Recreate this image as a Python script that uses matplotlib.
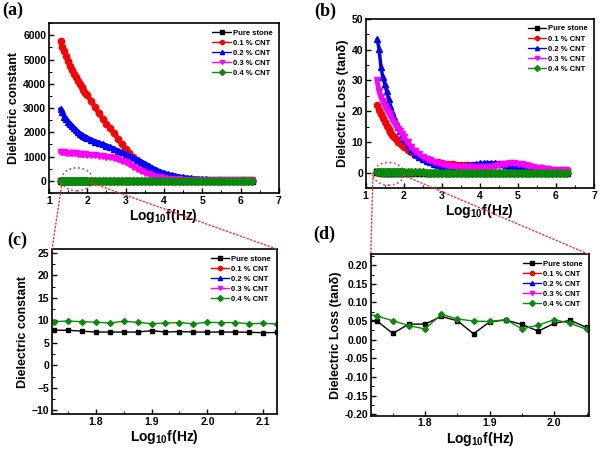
import numpy as np
import matplotlib
matplotlib.use("Agg")
import matplotlib.pyplot as plt
from matplotlib.patches import Ellipse, ConnectionPatch
from matplotlib.ticker import MultipleLocator, FormatStrFormatter

plt.rcParams['font.family'] = ['Liberation Sans', 'DejaVu Sans']
plt.rcParams['font.weight'] = 'bold'
plt.rcParams['axes.labelweight'] = 'bold'
plt.rcParams['mathtext.fontset'] = 'custom'
plt.rcParams['mathtext.rm'] = 'Liberation Sans:bold'
plt.rcParams['mathtext.bf'] = 'Liberation Sans:bold'
plt.rcParams['mathtext.default'] = 'bf'

labels = ["Pure stone", "0.1 % CNT", "0.2 % CNT", "0.3 % CNT", "0.4 % CNT"]
colors = ["#000000", "#ff0000", "#0000ff", "#ff00ff", "#0a8a0a"]
markers = ["s", "o", "^", "v", "D"]

# full spectrum, log10 f (Hz)
logf = [1.30, 1.35, 1.40, 1.45, 1.50, 1.55, 1.60, 1.65, 1.70, 1.75, 1.80, 1.85, 1.90, 1.95, 2.00,
        2.1, 2.2, 2.3, 2.4, 2.5, 2.6, 2.7, 2.8, 2.9, 3.0, 3.1, 3.2, 3.3, 3.4, 3.5, 3.6, 3.7, 3.8, 3.9,
        4.0, 4.1, 4.2, 4.3, 4.4, 4.5, 4.6, 4.7, 4.8, 4.9, 5.0, 5.1, 5.2, 5.3, 5.4, 5.5, 5.6, 5.7, 5.8,
        5.9, 6.0, 6.1, 6.2, 6.3]

# dielectric constant
eps_pure = [8.0, 7.9, 7.8, 7.7, 7.6, 7.6, 7.5, 7.5, 7.5, 7.5, 7.5, 7.5, 7.4, 7.4, 7.4,
            7.3, 7.3, 7.2, 7.2, 7.1, 7.1, 7.0, 7.0, 6.9, 6.9, 6.8, 6.8, 6.7, 6.7, 6.6, 6.6, 6.5, 6.5, 6.4,
            6.4, 6.3, 6.3, 6.2, 6.2, 6.1, 6.1, 6.0, 6.0, 5.9, 5.9, 5.8, 5.8, 5.7, 5.7, 5.6, 5.6, 5.5, 5.5,
            5.4, 5.4, 5.3, 5.3, 5.2]
eps_01 = [5750, 5530, 5330, 5130, 4940, 4750, 4560, 4400, 4260, 4120, 3990, 3870, 3760, 3640, 3530,
          3290, 3040, 2790, 2560, 2360, 2160, 1960, 1740, 1510, 1300, 1130, 980, 850, 720, 620, 520, 420, 330, 250,
          190, 150, 120, 100, 85, 75, 65, 58, 52, 48, 45, 42, 40, 38, 36, 34, 32, 30, 28,
          26, 25, 24, 22, 20]
eps_02 = [2950, 2850, 2650, 2540, 2430, 2340, 2250, 2160, 2080, 2010, 1950, 1890, 1840, 1800, 1760,
          1690, 1620, 1560, 1500, 1440, 1380, 1310, 1240, 1170, 1100, 1030, 950, 870, 790, 710, 620, 530, 450, 380,
          320, 270, 230, 200, 165, 140, 120, 100, 85, 75, 65, 58, 52, 47, 43, 40, 36, 33, 30,
          28, 26, 24, 22, 20]
eps_03 = [1180, 1175, 1170, 1165, 1160, 1155, 1150, 1140, 1130, 1120, 1110, 1105, 1100, 1090, 1080,
          1060, 1050, 1030, 1010, 1000, 970, 930, 880, 820, 760, 690, 590, 500, 410, 340, 270, 220, 170, 140,
          110, 90, 75, 65, 57, 50, 45, 40, 36, 33, 30, 28, 26, 24, 22, 21, 20, 19, 18,
          17, 16, 16, 15, 15]
eps_04 = [9.8, 9.7, 9.7, 9.6, 9.6, 9.5, 9.5, 9.4, 9.4, 9.4, 9.3, 9.3, 9.3, 9.2, 9.2,
          9.1, 9.0, 9.0, 8.9, 8.9, 8.8, 8.7, 8.7, 8.6, 8.6, 8.5, 8.4, 8.4, 8.3, 8.3, 8.2, 8.1, 8.1, 8.0,
          8.0, 7.9, 7.8, 7.8, 7.7, 7.7, 7.6, 7.5, 7.5, 7.4, 7.4, 7.3, 7.2, 7.2, 7.1, 7.1, 7.0, 7.0, 6.9,
          6.9, 6.8, 6.8, 6.7, 6.7]

# dielectric loss (tan delta)
tan_pure = [0.05, 0.05, 0.04, 0.04, 0.04, 0.04, 0.04, 0.04, 0.04, 0.04, 0.04, 0.04, 0.04, 0.04, 0.04,
            0.04, 0.04, 0.04, 0.04, 0.04, 0.03, 0.03, 0.03, 0.03, 0.03, 0.03, 0.03, 0.03, 0.03, 0.03, 0.03, 0.03, 0.03, 0.03,
            0.03, 0.03, 0.03, 0.03, 0.03, 0.03, 0.03, 0.03, 0.03, 0.03, 0.03, 0.02, 0.02, 0.02, 0.02, 0.02, 0.02, 0.02, 0.02,
            0.02, 0.02, 0.02, 0.02, 0.02]
tan_01 = [22.0, 20.5, 19.0, 17.8, 16.5, 15.3, 14.2, 13.3, 12.4, 11.6, 10.8, 10.1, 9.5, 8.9, 8.4,
          7.4, 6.6, 5.9, 5.3, 4.8, 4.3, 3.9, 3.6, 3.3, 3.1, 2.9, 2.8, 2.7, 2.6, 2.5, 2.5, 2.5, 2.5, 2.5,
          2.5, 2.5, 2.6, 2.6, 2.7, 2.7, 2.8, 2.8, 2.8, 2.7, 2.5, 2.3, 2.1, 1.9, 1.7, 1.5, 1.4, 1.2, 1.1,
          1.0, 0.9, 0.8, 0.8, 0.7]
tan_02 = [43.5, 40.4, 34.5, 31.0, 28.8, 26.5, 24.0, 21.8, 19.8, 18.2, 16.5, 15.0, 13.5, 12.2, 11.0,
          9.0, 7.4, 6.0, 5.0, 4.3, 3.8, 3.3, 2.9, 2.5, 2.2, 2.1, 2.0, 2.0, 2.0, 2.1, 2.2, 2.4, 2.6, 2.8,
          3.0, 3.1, 3.2, 3.2, 3.1, 2.9, 2.7, 2.4, 2.1, 1.8, 1.6, 1.4, 1.2, 1.1, 0.9, 0.8, 0.7, 0.6, 0.5,
          0.5, 0.4, 0.4, 0.4, 0.4]
tan_03 = [30.0, 26.5, 24.5, 23.2, 21.8, 20.5, 19.5, 18.5, 17.2, 16.2, 15.2, 14.3, 13.5, 12.5, 11.6,
          10.0, 8.3, 7.0, 6.0, 5.2, 4.6, 4.0, 3.5, 3.1, 2.7, 2.4, 2.2, 2.0, 1.9, 1.8, 1.7, 1.7, 1.7, 1.7,
          1.7, 1.7, 1.8, 1.9, 2.1, 2.4, 2.7, 2.9, 3.0, 3.0, 2.9, 2.7, 2.4, 2.1, 1.8, 1.6, 1.4, 1.2, 1.1,
          1.0, 0.9, 0.8, 0.7, 0.6]
tan_04 = [0.06, 0.06, 0.05, 0.05, 0.05, 0.05, 0.05, 0.05, 0.05, 0.05, 0.05, 0.05, 0.05, 0.05, 0.05,
          0.05, 0.05, 0.05, 0.05, 0.05, 0.04, 0.04, 0.04, 0.04, 0.04, 0.04, 0.04, 0.04, 0.04, 0.04, 0.04, 0.04, 0.04, 0.04,
          0.04, 0.04, 0.04, 0.04, 0.04, 0.04, 0.04, 0.03, 0.03, 0.03, 0.03, 0.03, 0.03, 0.03, 0.03, 0.03, 0.03, 0.03, 0.03,
          0.03, 0.03, 0.03, 0.03, 0.03]

# zoomed window (c), (d)
logf_zoom = [1.700, 1.725, 1.750, 1.775, 1.800, 1.825, 1.850, 1.875, 1.900, 1.925, 1.950, 1.975,
             2.000, 2.025, 2.050, 2.075, 2.100, 2.125]
eps_pure_zoom = [7.8, 7.8, 7.8, 7.6, 7.4, 7.4, 7.4, 7.4, 7.7, 7.4, 7.5, 7.4, 7.4, 7.4, 7.4, 7.35, 7.25, 7.3]
eps_04_zoom = [9.7, 9.7, 9.85, 9.7, 9.6, 9.4, 9.8, 9.55, 9.26, 9.4, 9.5, 9.26, 9.55, 9.5, 9.5, 9.26, 9.33, 9.2]
tan_pure_zoom = [0.055, 0.051, 0.017, 0.042, 0.042, 0.0625, 0.051, 0.016, 0.048, 0.053, 0.041, 0.023,
                 0.044, 0.052, 0.033, 0.035, 0.04, 0.04]
tan_04_zoom = [0.072, 0.064, 0.051, 0.038, 0.029, 0.068, 0.056, 0.050, 0.049, 0.054, 0.029, 0.039,
               0.054, 0.044, 0.028, 0.03, 0.04, 0.04]

fig = plt.figure(figsize=(6, 4.53), dpi=100)
ax_a = fig.add_axes([0.0817, 0.574, 0.383, 0.375])
ax_b = fig.add_axes([0.6095, 0.585, 0.3805, 0.373])
ax_c = fig.add_axes([0.0867, 0.086, 0.375, 0.364])
ax_d = fig.add_axes([0.618, 0.0823, 0.364, 0.356])

eps_all = [eps_pure, eps_01, eps_02, eps_03, eps_04]
tan_all = [tan_pure, tan_01, tan_02, tan_03, tan_04]

# thick bands: the measured points are so dense that they merge
for i in range(5):
    ax_a.plot(logf, eps_all[i], color=colors[i], marker=markers[i], ms=4.5, lw=3.5,
              solid_capstyle="round", label=labels[i])
    ax_b.plot(logf, tan_all[i], color=colors[i], marker=markers[i], ms=4.5, lw=3.5 if i != 2 else 2.5,
              solid_capstyle="round", label=labels[i])

# zoom panels: the CNT 0.1-0.3 curves sit far above the window
zoom_eps = [eps_pure_zoom, None, None, None, eps_04_zoom]
zoom_tan = [tan_pure_zoom, None, None, None, tan_04_zoom]
for i in range(5):
    if zoom_eps[i] is not None:
        ax_c.plot(logf_zoom, zoom_eps[i], color=colors[i], marker=markers[i], ms=3, lw=1, label=labels[i])
        ax_d.plot(logf_zoom, zoom_tan[i], color=colors[i], marker=markers[i], ms=3, lw=1, label=labels[i])
    else:
        ax_c.plot(logf, eps_all[i], color=colors[i], marker=markers[i], ms=3, lw=1, label=labels[i])
        ax_d.plot(logf, tan_all[i], color=colors[i], marker=markers[i], ms=3, lw=1, label=labels[i])

xlab = r"Log$_{10}$f(Hz)"
ax_a.set_xlim(1, 7)
ax_a.set_ylim(-500, 6500)
ax_a.xaxis.set_major_locator(MultipleLocator(1))
ax_a.xaxis.set_minor_locator(MultipleLocator(0.5))
ax_a.yaxis.set_major_locator(MultipleLocator(1000))
ax_a.yaxis.set_minor_locator(MultipleLocator(500))
ax_a.set_ylabel("Dielectric constant")

ax_b.set_xlim(1, 7)
ax_b.set_ylim(-5, 50)
ax_b.xaxis.set_major_locator(MultipleLocator(1))
ax_b.xaxis.set_minor_locator(MultipleLocator(0.5))
ax_b.yaxis.set_major_locator(MultipleLocator(10))
ax_b.yaxis.set_minor_locator(MultipleLocator(5))
ax_b.set_ylabel("Dielectric Loss (tanδ)")

ax_c.set_xlim(1.722, 2.1245)
ax_c.set_ylim(-10.8, 25.8)
ax_c.xaxis.set_major_locator(MultipleLocator(0.1))
ax_c.xaxis.set_minor_locator(MultipleLocator(0.05))
ax_c.yaxis.set_major_locator(MultipleLocator(5))
ax_c.yaxis.set_minor_locator(MultipleLocator(2.5))
ax_c.xaxis.set_major_formatter(FormatStrFormatter("%.1f"))
ax_c.set_ylabel("Dielectric constant")

ax_d.set_xlim(1.716, 2.054)
ax_d.set_ylim(-0.204, 0.229)
ax_d.xaxis.set_major_locator(MultipleLocator(0.1))
ax_d.xaxis.set_minor_locator(MultipleLocator(0.05))
ax_d.yaxis.set_major_locator(MultipleLocator(0.05))
ax_d.yaxis.set_minor_locator(MultipleLocator(0.025))
ax_d.xaxis.set_major_formatter(FormatStrFormatter("%.1f"))
ax_d.yaxis.set_major_formatter(FormatStrFormatter("%.2f"))
ax_d.set_ylabel("Dielectric Loss (tanδ)")

for ax in [ax_a, ax_b, ax_c, ax_d]:
    ax.set_xlabel(xlab, fontsize=10, labelpad=1)
    ax.yaxis.label.set_fontsize(9)
    ax.yaxis.labelpad = 2
    ax.tick_params(which="both", direction="in", top=False, right=False, labelsize=7.5, pad=2)
    ax.tick_params(which="major", length=3.5, width=1)
    ax.tick_params(which="minor", length=2, width=0.8)
    for s in ax.spines.values():
        s.set_linewidth(1.2)
    leg = ax.legend(loc="upper right", frameon=False, handlelength=2.4,
                    labelspacing=0.35, handletextpad=0.3, borderaxespad=0.4,
                    prop={"weight": "bold", "size": 5.5})
    for h in leg.get_lines():
        h.set_linewidth(1)
        h.set_markersize(3)

# highlighted region and connectors
red_dot = "#ff3030"
ax_a.add_patch(Ellipse((1.73, 62), 0.81, 946, fill=False, ec=red_dot, ls=":", lw=1.2, clip_on=False))
ax_b.add_patch(Ellipse((1.60, -0.4), 0.815, 7.4, fill=False, ec=red_dot, ls=":", lw=1.2, clip_on=False))
for xa, xb in [((1.34, -80), (0, 1)), ((2.1, -80), (1, 1))]:
    fig.add_artist(ConnectionPatch(xyA=xa, coordsA=ax_a.transData, xyB=xb, coordsB=ax_c.transAxes,
                                   color=red_dot, ls=":", lw=1))
for xa, xb in [((1.19, -0.6), (0, 1)), ((2.0, -0.9), (1, 1))]:
    fig.add_artist(ConnectionPatch(xyA=xa, coordsA=ax_b.transData, xyB=xb, coordsB=ax_d.transAxes,
                                   color=red_dot, ls=":", lw=1))

tfont = dict(family="Liberation Serif", fontweight="bold", fontsize=13, va="top", ha="left")
fig.text(0.003, 0.997, "(a)", **tfont)
fig.text(0.523, 0.995, "(b)", **tfont)
fig.text(0.012, 0.488, "(c)", **tfont)
fig.text(0.522, 0.502, "(d)", **tfont)

fig.savefig("out.png", dpi=100)
